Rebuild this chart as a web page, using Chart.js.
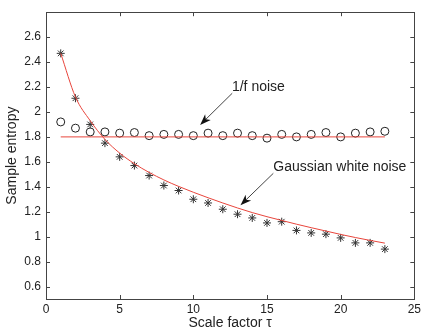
<!DOCTYPE html>
<html>
<head>
<meta charset="utf-8">
<script src="https://cdn.jsdelivr.net/npm/chart.js@4"></script>
<style>
  html, body { margin: 0; padding: 0; background: #fff; }
  #wrap { width: 424px; height: 334px; }
</style>
</head>
<body>
<div id="wrap"><canvas id="myChart"></canvas></div>
<script>
const scaleFactor = [1, 2, 3, 4, 5, 6, 7, 8, 9, 10, 11, 12, 13, 14, 15, 16, 17, 18, 19, 20, 21, 22, 23];

// sample entropy, gaussian white noise (stars)
const gaussian = [2.47, 2.11, 1.90, 1.75, 1.64, 1.57, 1.49, 1.41, 1.37, 1.30, 1.27, 1.22,
    1.18, 1.15, 1.11, 1.12, 1.05, 1.03, 1.02, 0.99, 0.95, 0.95, 0.90];

// sample entropy, 1/f noise (circles)
const pinkNoise = [1.92, 1.87, 1.84, 1.84, 1.83, 1.835, 1.81, 1.82, 1.82, 1.81, 1.83, 1.81,
    1.83, 1.81, 1.79, 1.82, 1.80, 1.82, 1.835, 1.80, 1.83, 1.84, 1.845];

// red theoretical curves
const gaussianFit = [2.47, 2.12, 1.93, 1.78, 1.67, 1.585, 1.515, 1.455, 1.403, 1.356, 1.312, 1.27,
    1.23, 1.193, 1.16, 1.13, 1.10, 1.072, 1.045, 1.018, 0.993, 0.97, 0.948];
const pinkFitX = [1, 23];
const pinkFit = [1.8, 1.8];

const xTicks = [0, 5, 10, 15, 20, 25];
const yTicks = [0.6, 0.8, 1.0, 1.2, 1.4, 1.6, 1.8, 2.0, 2.2, 2.4, 2.6];

// annotations: [label, text x, text y, arrow start x, arrow start y, tip x, tip y]
const notes = [
    ['1/f noise', 12.62, 2.20, 12.64, 2.15, 10.46, 1.896],
    ['Gaussian white noise', 15.43, 1.561, 15.43, 1.508, 13.2, 1.252]
];

const FONT = "'Liberation Sans', Arial, sans-serif";

const toPoints = (xs, ys) => xs.map((x, i) => ({x: x, y: ys[i]}));

// box + inward ticks on all four sides, plus the arrows
const boxPlugin = {
    id: 'box',
    afterDatasetsDraw(chart) {
        const ctx = chart.ctx;
        const a = chart.chartArea;
        const xs = chart.scales.x, ys = chart.scales.y;
        ctx.save();
        ctx.strokeStyle = '#444';
        ctx.lineWidth = 1;
        ctx.strokeRect(Math.round(a.left) + 0.5, Math.round(a.top) + 0.5,
            Math.round(a.right - a.left), Math.round(a.bottom - a.top));
        ctx.beginPath();
        xTicks.forEach(v => {
            const px = Math.round(xs.getPixelForValue(v)) + 0.5;
            ctx.moveTo(px, a.bottom); ctx.lineTo(px, a.bottom - 4);
            ctx.moveTo(px, a.top); ctx.lineTo(px, a.top + 4);
        });
        yTicks.forEach(v => {
            const py = Math.round(ys.getPixelForValue(v)) + 0.5;
            ctx.moveTo(a.left, py); ctx.lineTo(a.left + 4, py);
            ctx.moveTo(a.right, py); ctx.lineTo(a.right - 4, py);
        });
        ctx.stroke();

        ctx.font = '14px ' + FONT;
        ctx.fillStyle = '#222';
        ctx.textBaseline = 'middle';
        ctx.textAlign = 'left';
        notes.forEach(n => {
            ctx.fillText(n[0], xs.getPixelForValue(n[1]), ys.getPixelForValue(n[2]));
            const x0 = xs.getPixelForValue(n[3]), y0 = ys.getPixelForValue(n[4]);
            const x1 = xs.getPixelForValue(n[5]), y1 = ys.getPixelForValue(n[6]);
            const ang = Math.atan2(y1 - y0, x1 - x0);
            ctx.strokeStyle = '#444';
            ctx.beginPath();
            ctx.moveTo(x0, y0);
            ctx.lineTo(x1 - 8 * Math.cos(ang), y1 - 8 * Math.sin(ang));
            ctx.stroke();
            ctx.fillStyle = '#111';
            ctx.beginPath();
            ctx.moveTo(x1, y1);
            ctx.lineTo(x1 - 11 * Math.cos(ang) + 4 * Math.sin(ang), y1 - 11 * Math.sin(ang) - 4 * Math.cos(ang));
            ctx.lineTo(x1 - 8 * Math.cos(ang), y1 - 8 * Math.sin(ang));
            ctx.lineTo(x1 - 11 * Math.cos(ang) - 4 * Math.sin(ang), y1 - 11 * Math.sin(ang) + 4 * Math.cos(ang));
            ctx.closePath();
            ctx.fill();
            ctx.fillStyle = '#222';
        });
        ctx.restore();
    }
};

const data = {
    datasets: [{
        label: 'fit gaussian',
        data: toPoints(scaleFactor, gaussianFit),
        showLine: true,
        borderColor: '#e8453c',
        borderWidth: 1,
        pointRadius: 0,
        cubicInterpolationMode: 'monotone'
    }, {
        label: 'fit 1/f',
        data: toPoints(pinkFitX, pinkFit),
        showLine: true,
        borderColor: '#e8453c',
        borderWidth: 1,
        pointRadius: 0
    }, {
        label: 'Gaussian white noise',
        data: toPoints(scaleFactor, gaussian),
        pointStyle: 'star',
        pointRadius: 4,
        borderColor: '#333',
        borderWidth: 1,
        backgroundColor: '#333'
    }, {
        label: '1/f noise',
        data: toPoints(scaleFactor, pinkNoise),
        pointStyle: 'circle',
        pointRadius: 4,
        borderColor: '#222',
        borderWidth: 1,
        backgroundColor: 'rgba(0,0,0,0)'
    }]
};

const config = {
    type: 'scatter',
    data: data,
    plugins: [boxPlugin],
    options: {
        responsive: true,
        maintainAspectRatio: false,
        animation: false,
        events: [],
        plugins: {
            legend: { display: false },
            tooltip: { enabled: false }
        },
        layout: {
            padding: { top: 5, right: 5, left: 0, bottom: 0 }
        },
        scales: {
            x: {
                type: 'linear',
                min: 0,
                max: 25,
                afterFit: s => { s.height = 35; },
                afterBuildTicks: s => { s.ticks = xTicks.map(v => ({value: v})); },
                grid: { display: false, drawTicks: false },
                border: { display: false },
                ticks: {
                    padding: 3,
                    color: '#222',
                    font: { family: FONT, size: 12 }
                },
                title: {
                    display: true,
                    text: 'Scale factor τ',
                    color: '#222',
                    padding: { top: 0, bottom: 2 },
                    font: { family: FONT, size: 14 }
                }
            },
            y: {
                min: 0.5,
                max: 2.8,
                afterFit: s => { s.width = 46; },
                afterBuildTicks: s => { s.ticks = yTicks.map(v => ({value: v})); },
                grid: { display: false, drawTicks: false },
                border: { display: false },
                ticks: {
                    padding: 5,
                    color: '#222',
                    font: { family: FONT, size: 12 },
                    callback: v => String(Math.round(v * 10) / 10)
                },
                title: {
                    display: true,
                    text: 'Sample entropy',
                    color: '#222',
                    padding: { top: 4, bottom: 0 },
                    font: { family: FONT, size: 14 }
                }
            }
        }
    }
};

const myChart = new Chart(document.getElementById('myChart'), config);
</script>
</body>
</html>
